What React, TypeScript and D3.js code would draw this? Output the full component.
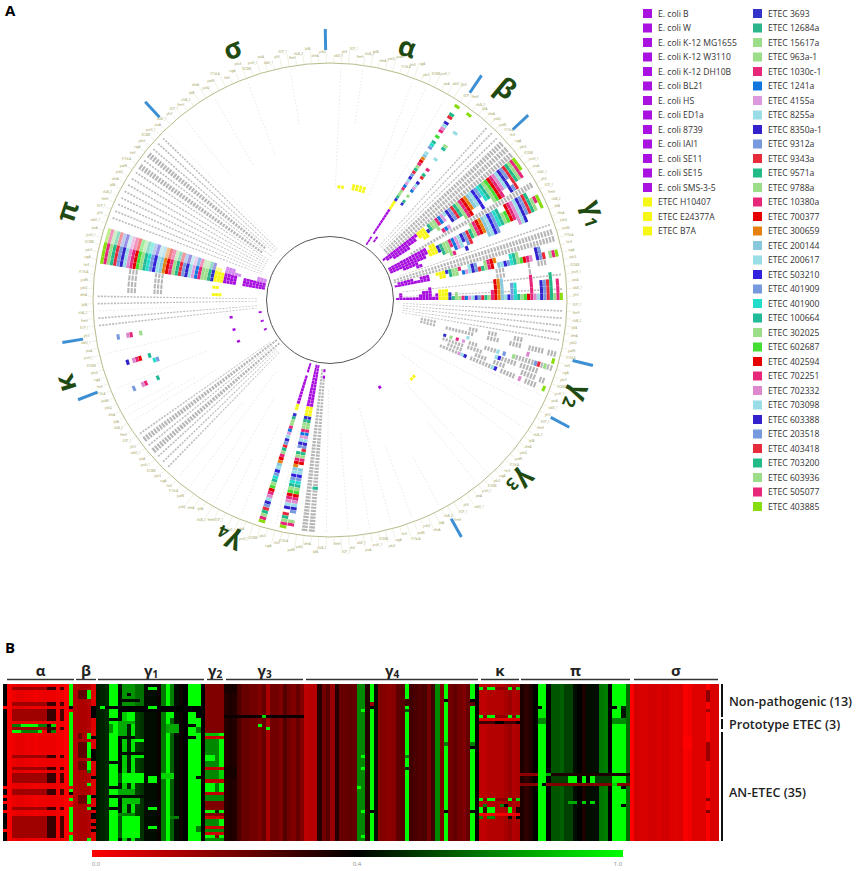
import { useEffect, useRef } from "react";
import * as d3 from "d3";

const width = 856;
const height = 871;

// ---------- legend / strains (one ring per strain) ----------
const nonPathogenic = ["E. coli B", "E. coli W", "E. coli K-12 MG1655", "E. coli K-12 W3110", "E. coli K-12 DH10B", "E. coli BL21", "E. coli HS", "E. coli ED1a", "E. coli 8739", "E. coli IAI1", "E. coli SE11", "E. coli SE15", "E. coli SMS-3-5"];
const prototypeEtec = ["ETEC H10407", "ETEC E24377A", "ETEC B7A"];
const anEtec = ["ETEC 3693", "ETEC 12684a", "ETEC 15617a", "ETEC 963a-1", "ETEC 1030c-1", "ETEC 1241a", "ETEC 4155a", "ETEC 8255a", "ETEC 8350a-1", "ETEC 9312a", "ETEC 9343a", "ETEC 9571a", "ETEC 9788a", "ETEC 10380a", "ETEC 700377", "ETEC 300659", "ETEC 200144", "ETEC 200617", "ETEC 503210", "ETEC 401909", "ETEC 401900", "ETEC 100664", "ETEC 302025", "ETEC 602687", "ETEC 402594", "ETEC 702251", "ETEC 702332", "ETEC 703098", "ETEC 603388", "ETEC 203518", "ETEC 403418", "ETEC 703200", "ETEC 603936", "ETEC 505077", "ETEC 403885"];
const anEtecColors = ["#3333cc", "#2bb58c", "#9bdd88", "#9bdd88", "#e6277a", "#1177dd", "#dd99dd", "#99dde6", "#3322cc", "#7799dd", "#e62b3a", "#22bb88", "#9bdd88", "#e6277a", "#e60000", "#e68011", "#88c8dd", "#99dde6", "#3322dd", "#7799dd", "#22ddcc", "#22bb99", "#9bdd88", "#44dd33", "#e60000", "#e6277a", "#dd88cc", "#99dde6", "#3322cc", "#7799dd", "#e62b3a", "#22bb88", "#9bdd88", "#e6277a", "#88dd11"];
const strains = [...nonPathogenic, ...prototypeEtec, ...anEtec];
const strainColors = [...nonPathogenic.map(() => "#a811e0"), ...prototypeEtec.map(() => "#f7f716"), ...anEtecColors];

// ---------- panel A: [gene slot, [[ringFrom, ringTo], ...]] ----------
const alphaCells: [number, number[][]][] = [
  [18, [[0, 2], [4, 12], [13, 15], [16, 33], [35, 37], [39, 39], [41, 44], [46, 47], [50, 50]]],
  [20, [[2, 3], [16, 17], [19, 19], [21, 24], [26, 27], [29, 29], [33, 33], [37, 38], [43, 43], [50, 50]]],
  [2, [[14, 14]]],
  [3, [[14, 14]]],
  [6, [[14, 15]]],
  [7, [[14, 15]]],
  [8, [[14, 15]]],
  [9, [[14, 15]]],
];
const gamma1Cells: [number, number[][]][] = [
  [29, [[0, 12], [13, 15], [17, 50]]],
  [30, [[1, 11], [13, 15], [16, 22], [24, 50]]],
  [31, [[3, 8], [14, 15], [19, 19], [24, 34], [36, 44], [46, 49]]],
  [32, [[20, 22], [28, 30], [34, 34], [38, 41], [44, 46]]],
  [34, [[0, 12], [14, 15], [28, 37], [40, 47]]],
  [35, [[0, 12], [13, 15], [16, 50]]],
  [36, [[0, 11], [13, 15], [16, 48], [50, 50]]],
  [37, [[4, 8], [17, 19], [21, 23], [25, 26], [32, 35], [42, 44]]],
  [38, [[8, 9], [19, 20], [24, 24]]],
  [42, [[1, 5], [8, 10], [13, 15], [16, 20], [23, 25], [28, 31], [36, 38], [44, 45]]],
  [43, [[0, 7], [8, 10], [14, 15], [17, 19], [21, 27], [28, 30], [32, 42], [44, 46], [48, 50]]],
];
const gamma2Cells: [number, number[][]][] = [
  [58, [[42, 42], [50, 50], [23, 23]]],
  [59, [[16, 16], [18, 18], [20, 20], [22, 22], [33, 33], [35, 35], [38, 38], [45, 46], [48, 48]]],
  [60, [[33, 34]]],
  [62, [[22, 24], [33, 34], [42, 42], [50, 50]]],
  [73, [[14, 14]]],
  [74, [[14, 14]]],
];
const kappaCells: [number, number[][]][] = [
  [144, [[1, 1], [10, 10], [38, 38], [41, 42], [45, 45]]],
  [140, [[1, 1], [10, 10], [37, 37], [40, 42], [44, 44]]],
  [139, [[35, 35], [36, 36]]],
  [136, [[1, 1], [10, 10], [37, 37], [41, 42], [45, 45]]],
];
const gamma4Cells: [number, number[][]][] = [
  [109, [[0, 2], [4, 12], [13, 14], [16, 50]]],
  [106, [[0, 8], [9, 12], [13, 15], [16, 25], [27, 44], [46, 50]]],
  [105, [[0, 12], [13, 15], [16, 30], [32, 45], [48, 49]]],
  [102, [[1, 1], [3, 3], [37, 37]]],
  [83, [[10, 10]]],
];
const piCells: [number, number[][]][] = [
  [155, [[0, 6], [9, 12], [13, 15], [16, 50]]],
  [156, [[0, 6], [9, 12], [13, 15], [16, 50]]],
  [157, [[0, 6], [9, 12], [13, 15], [16, 50]]],
];
const piFadedCells: [number, number[][]][] = [
  [158, [[0, 2], [8, 12], [14, 15], [16, 50]]],
  [159, [[0, 2], [10, 12], [16, 50]]],
];
const gamma1Stack = [1, 3, 1, 1, 1, 1, 1, 2, 3, 3, 4, 1, 2, 3, 3, 3, 2, 1, 2, 1, 1, 1, 1, 1, 1, 1, 1, 1, 1, 2, 4, 4, 4, 1, 1, 3, 3, 1, 1, 1, 1, 4, 1, 1, 3, 3, 3, 4, 1, 3, 1];

const grayThick: [number, number[][]][] = [
  [26, [[2, 50]]], [27, [[2, 50]]], [28, [[2, 50]]], [33, [[8, 50]]],
  [40, [[0, 50]]], [41, [[0, 50]]],
  [103, [[1, 50]]], [102, [[4, 36], [38, 50]]],
  [129, [[0, 50]]], [127, [[0, 50]]],
  [169, [[5, 50]]], [171, [[5, 50]]],
  [152, [[31, 33], [39, 41]]], [153, [[31, 33], [39, 41]]], [154, [[31, 33], [39, 41]]],
  [56, [[8, 12], [23, 25], [29, 31], [37, 39]]], [57, [[8, 12], [16, 24], [29, 32], [36, 39], [42, 46], [48, 50]]],
  [59, [[24, 26], [29, 32], [39, 44], [47, 47], [49, 50]]],
  [60, [[16, 22], [24, 28], [35, 39], [41, 46]]],
  [61, [[18, 22], [27, 30], [33, 36], [42, 46], [48, 49]]],
  [62, [[16, 21], [26, 32], [36, 40], [44, 47]]],
  [44, [[31, 33], [41, 41], [44, 46]]], [45, [[31, 33], [41, 41]]],
  [151, [[31, 33], [39, 41]]],
];
const grayThin = [23, 24, 25, 39, 46, 48, 51, 52, 53, 54, 55, 125, 124, 126, 128, 130, 146, 147, 149, 150, 161, 162, 163, 164, 165, 166, 167, 168, 170, 172, 173, 174];
const faintGenes = [1, 4, 11, 13, 16, 49, 63, 65, 68, 70, 76, 78, 84, 88, 91, 94, 97, 100, 107, 112, 114, 116, 118, 120, 122, 132, 133, 134, 137, 142, 148, 175, 178, 183, 188, 194];
const piYellow: [number, number[][]][] = [[151, [[13, 15]]], [153, [[14, 15]]]];

const sectorTicks = [-1, 34, 47, 104, 118, 151, 248.4, 261, 317];
const sectorNames: [string, string, number, number][] = [
  ["σ", "", 338.8, 268], ["α", "", 17, 263], ["β", "", 39.7, 274], ["γ", "1", 71.8, 278],
  ["γ", "2", 111.4, 266], ["γ", "3", 133.6, 265], ["γ", "4", 203, 261], ["κ", "", 252.5, 276], ["π", "", 288.6, 276],
];
// the gene names round the rim are too small to read in the picture; short stand-ins
const rimLabels = ["stbD_1", "yfcV", "ECP_1", "fimH", "cfaB_2", "lpfA", "sfmA", "ycbQ", "yadN", "f17d-A", "htrE", "csgA", "ydeS", "ECS88", "yraH_1", "pixA"];

// ---------- panel B: base value per gene column, patches [rowFrom, rowTo, colFrom, colTo, value] ----------
const denseRows = [1, 6, 8, 9, 10, 11, 14, 23, 27, 29, 30, 31, 34, 35, 40, 43, 44, 45, 46, 47, 48, 49];
const alphaCols = [0.4, 0.01, 0.03, 0.04, 0.04, 0.03, 0.03, 0.02, 0.03, 0.03, 0.03, 0.03, 0.02, 0.02, 0, 1];
const alphaPatches = [
  ...denseRows.flatMap((r) => [[r, r, 2, 9, 0.15], [r, r, 10, 11, 0.31], [r, r, 13, 13, 0.28]]),
  [7, 7, 0, 0, 0], [33, 33, 0, 0, 0], [36, 36, 0, 0, 0], [38, 38, 0, 0, 0], [41, 41, 0, 0, 0], [47, 47, 0, 0, 0],
  [13, 13, 2, 3, 0.7], [13, 13, 4, 7, 1], [13, 13, 8, 9, 0.7], [13, 13, 11, 11, 0.9], [13, 13, 10, 10, 0.38],
  [15, 15, 2, 3, 1], [15, 15, 4, 7, 0.7], [15, 15, 8, 8, 0.95], [15, 15, 10, 10, 0.35], [15, 15, 11, 11, 0.7],
  [7, 7, 15, 15, 0.4], [8, 8, 15, 15, 0.05], [33, 33, 15, 15, 0.05], [35, 35, 15, 15, 0.4], [36, 36, 15, 15, 0], [38, 38, 15, 15, 0], [39, 39, 15, 15, 0.05], [48, 48, 15, 15, 0],
];
const betaCols = [0.12, 0.13, 0.13, 0.12, 0.05];
const betaPatches = [
  [2, 4, 1, 2, 0.25], [2, 4, 3, 3, 1], [7, 10, 4, 4, 0.4], [16, 17, 3, 3, 1], [16, 17, 1, 1, 0.22], [19, 23, 3, 3, 1], [19, 23, 1, 2, 0.25],
  [25, 27, 3, 3, 1], [25, 27, 1, 2, 0.22], [28, 28, 3, 3, 0.7], [32, 32, 3, 3, 1], [36, 38, 3, 3, 1], [36, 38, 1, 2, 0.22], [40, 40, 3, 3, 1], [50, 50, 3, 3, 1],
  [17, 17, 4, 4, 0.4], [21, 24, 4, 4, 0.4], [30, 30, 4, 4, 0.4], [36, 36, 4, 4, 0.4], [40, 40, 4, 4, 0.4], [42, 43, 4, 4, 0.4], [45, 45, 4, 4, 0.4], [47, 47, 4, 4, 0.4],
];
const gamma1Cols = [0.46, 0.48, 0.5, 1, 1, 0.42, 0.88, 0.48, 0.95, 0.55, 0.52, 0.44, 0.42, 0.42, 0.38, 0.68, 1, 0.62, 0.42, 0.38, 0.4, 1, 1, 1, 0.4];
const gamma1Patches = [
  [0, 6, 6, 8, 0.75], [0, 6, 9, 10, 0.66], [1, 1, 12, 13, 1], [0, 6, 17, 17, 0.7], [3, 3, 7, 7, 0.4], [5, 5, 6, 9, 0.42],
  [7, 7, 2, 24, 0.4], [7, 7, 1, 1, 1], [7, 7, 12, 13, 1], [8, 8, 3, 24, 0.4], [8, 10, 3, 4, 1], [9, 11, 7, 8, 1], [9, 10, 16, 17, 1], [9, 10, 21, 22, 1], [9, 10, 23, 23, 0.4],
  [11, 11, 3, 4, 0.42], [12, 12, 5, 8, 0.8], [13, 15, 3, 3, 0.75], [13, 16, 5, 6, 0.8], [13, 15, 16, 18, 0.8], [14, 15, 23, 23, 0.7], [13, 13, 21, 22, 0.42],
  [17, 17, 6, 8, 0.42], [17, 17, 21, 22, 0.42], [18, 18, 9, 10, 1], [22, 22, 5, 10, 0.42], [23, 23, 9, 10, 0.95], [25, 25, 3, 4, 0.42],
  [29, 31, 6, 10, 1], [29, 31, 5, 5, 0.6], [30, 31, 12, 13, 1], [29, 30, 15, 17, 0.9], [30, 30, 23, 23, 0.42],
  [33, 33, 3, 5, 0.42], [34, 35, 5, 8, 0.8], [36, 36, 3, 10, 0.42], [37, 38, 6, 9, 0.85], [40, 40, 12, 13, 1], [40, 40, 3, 4, 0.42], [42, 42, 5, 8, 0.7],
  [43, 49, 6, 9, 1], [43, 49, 5, 5, 0.62], [46, 46, 12, 13, 1], [43, 43, 17, 18, 0.7], [46, 47, 23, 23, 0.7],
];
const gamma2Cols = [0.2, 0.2, 0.2, 0.2];
const gamma2Patches = [
  [16, 16, 0, 2, 0.85], [16, 16, 3, 3, 1], [17, 17, 0, 3, 0.08], [18, 26, 0, 2, 0.72], [18, 26, 3, 3, 1], [23, 24, 0, 1, 1], [27, 27, 0, 3, 0.1],
  [28, 30, 0, 2, 0.72], [28, 30, 3, 3, 0.9], [31, 31, 0, 3, 0.1], [32, 34, 0, 1, 1], [32, 34, 2, 2, 0.7], [32, 34, 3, 3, 1], [35, 35, 0, 3, 0.1],
  [36, 37, 0, 3, 0.72], [41, 41, 0, 1, 1], [41, 41, 2, 2, 0.5], [41, 41, 3, 3, 1], [43, 43, 0, 3, 0.08], [44, 45, 0, 2, 0.72], [44, 45, 3, 3, 1], [46, 46, 0, 3, 0.08],
  [47, 47, 0, 3, 0.72], [48, 48, 0, 3, 0.08], [49, 49, 0, 1, 1], [49, 49, 3, 3, 1], [50, 50, 0, 3, 0.72],
];
const gamma3Cols = [0.34, 0.36, 0.35, 0.28, 0.24, 0.24, 0.22, 0.22, 0.2, 0.24, 0.13, 0.22, 0.22, 0.2, 0.27, 0.22, 0.2, 0.24, 0.2];
const gamma3Patches = [
  [10, 10, 0, 18, 0.38], [10, 10, 9, 9, 0.9], [13, 13, 8, 8, 1], [14, 14, 10, 10, 1], [0, 2, 0, 2, 0.37], [27, 30, 0, 2, 0.37],
];
const gamma4Cols = [0.1, 0.11, 0.11, 0.34, 0.22, 0.26, 0.16, 0.34, 0.24, 0.24, 0.25, 0.24, 0.72, 0.72, 0.34, 1, 0.42, 0.2, 0.19, 0.18, 0.19, 0.25, 0.26, 1, 0.3, 0.28, 0.27, 0.28, 0.22, 0.3, 0.72, 0.2, 1, 0.22, 0.25, 0.22, 0.2, 0.24, 1, 0.4];
const gamma4Patches = [
  [5, 6, 23, 23, 0.3], [7, 7, 15, 15, 0.4], [5, 5, 32, 32, 0.4], [6, 6, 15, 15, 0.16], [5, 5, 38, 38, 0.4], [6, 6, 38, 38, 0.25],
  [8, 8, 13, 13, 1], [23, 23, 13, 13, 1], [27, 27, 13, 13, 1], [33, 33, 12, 12, 1], [41, 41, 13, 13, 1], [49, 49, 13, 13, 1],
  [23, 23, 23, 23, 0.7], [27, 27, 23, 23, 0.5], [41, 41, 15, 15, 0.4], [41, 41, 32, 32, 0.4], [41, 41, 38, 38, 0.4], [8, 8, 23, 23, 0.6], [19, 19, 32, 32, 0.7], [19, 19, 38, 38, 0.7], [20, 20, 38, 38, 0.4],
];
const kappaCols = [0.1, 0.1, 0.12, 0.12, 0.12, 0.12, 0.14, 0.16, 0.12, 0.13];
const kappaPatches = [
  [1, 1, 0, 9, 0.18], [1, 1, 0, 0, 1], [1, 1, 2, 3, 1], [1, 1, 7, 7, 1], [1, 1, 9, 9, 0.9],
  [10, 10, 0, 9, 0.18], [10, 10, 0, 0, 1], [10, 10, 2, 3, 1], [10, 10, 7, 7, 1], [10, 10, 9, 9, 0.9],
  [11, 11, 0, 9, 0.05], [12, 12, 0, 9, 0.3], [12, 12, 4, 5, 0.4], [12, 12, 9, 9, 0.4],
  [37, 37, 0, 9, 0.18], [37, 37, 0, 0, 1], [37, 37, 2, 3, 1], [37, 37, 7, 7, 1], [37, 37, 9, 9, 0.9],
  [39, 39, 1, 1, 0.7], [39, 39, 5, 5, 0.7], [39, 39, 6, 6, 0.4], [40, 41, 0, 0, 1], [40, 41, 2, 3, 1], [40, 41, 7, 7, 1], [40, 41, 1, 1, 0.3], [40, 41, 9, 9, 0.35],
  [42, 42, 0, 9, 0.02], [43, 43, 0, 0, 0.72], [43, 43, 2, 3, 0.72], [43, 43, 7, 7, 0.44], [43, 43, 9, 9, 0.4],
];
const piCols = [0.36, 0.33, 0.36, 0.4, 1, 1, 0.4, 0.6, 0.6, 0.62, 0.55, 0.55, 0.42, 0.4, 0.36, 0.42, 0.44, 0.42, 0.68, 0.7, 0.4, 1, 1, 1, 0.65];
const piPatches = [
  [7, 7, 4, 4, 0.4], [7, 7, 21, 21, 0.4], [7, 7, 23, 23, 0.5], [8, 10, 4, 5, 0.95], [8, 10, 23, 23, 0.45], [11, 12, 4, 5, 0.72], [11, 12, 21, 23, 0.72],
  [29, 29, 0, 3, 0.18], [29, 29, 6, 6, 0.8], [29, 29, 7, 24, 0.36], [30, 31, 7, 24, 0.55], [30, 31, 11, 12, 1], [30, 31, 14, 14, 1], [30, 31, 16, 16, 1], [30, 31, 21, 23, 1], [30, 31, 13, 13, 0.4], [30, 31, 15, 15, 0.4],
  [32, 32, 0, 3, 0.2], [32, 32, 5, 6, 0.4], [32, 32, 6, 24, 0.2], [32, 32, 21, 21, 0.9], [33, 33, 23, 23, 0.4],
  [38, 38, 11, 12, 0.8], [38, 38, 14, 14, 0.9], [38, 38, 16, 16, 0.9], [39, 39, 23, 23, 0.4],
];
const sigmaCols = [0, 0.07, 0.06, 0.06, 0.07, 0.07, 0.06, 0.07, 0.07, 0.05, 0.05, 0.06, 0.01, 0.02, 0.05, 0.05, 0.05, 0, 0.06, 0.06];
const sigmaPatches = [
  [2, 5, 17, 17, 0.18], [8, 8, 17, 17, 0.15], [19, 24, 17, 17, 0.16], [37, 37, 17, 17, 0.2], [41, 41, 17, 17, 0.2], [17, 20, 12, 13, 0.0],
];

const families: [string, string, number[], number[][]][] = [
  ["α", "", alphaCols, alphaPatches],
  ["β", "", betaCols, betaPatches],
  ["γ", "1", gamma1Cols, gamma1Patches],
  ["γ", "2", gamma2Cols, gamma2Patches],
  ["γ", "3", gamma3Cols, gamma3Patches],
  ["γ", "4", gamma4Cols, gamma4Patches],
  ["κ", "", kappaCols, kappaPatches],
  ["π", "", piCols, piPatches],
  ["σ", "", sigmaCols, sigmaPatches],
];
const groupLabels = ["Non-pathogenic (13)", "Prototype ETEC (3)", "AN-ETEC (35)"];

// layout
const center = { x: 330, y: 300 };
const innerR = 63.5;
const outerR = 237;
const familyEdges = [3, 73, 96, 205, 224, 304, 479, 520, 630, 719];
const bracketEdges = [[7, 74], [76, 96], [98, 204], [207, 223], [226, 303], [306, 478], [481, 519], [521, 630], [634, 718]];
const groupBars = [[684, 717], [719, 729], [732, 841]];
const groupBaselines = [705.5, 729, 796.5];

export default function App() {
  const svgRef = useRef<SVGSVGElement>(null);

  useEffect(() => {
    if (!svgRef.current) return;
    const svg = d3.select(svgRef.current);
    svg.selectAll("*").remove();
    const sans = "'Open Sans', sans-serif";

    // the source is a soft scan, so the marks get a slight blur
    const defs = svg.append("defs");
    defs.append("filter").attr("id", "soft-cells").append("feGaussianBlur").attr("stdDeviation", 0.35);
    defs.append("filter").attr("id", "soft-heat").attr("x", "-1%").attr("y", "-2%").attr("width", "102%").attr("height", "104%")
      .append("feGaussianBlur").attr("stdDeviation", 0.5);

    svg.append("text").attr("x", 5).attr("y", 16).attr("font-family", sans).attr("font-weight", 700).attr("font-size", 15).text("A");
    svg.append("text").attr("x", 5).attr("y", 653).attr("font-family", sans).attr("font-weight", 700).attr("font-size", 15).text("B");

    // ---- panel A
    const g = svg.append("g").attr("transform", `translate(${center.x},${center.y})`);
    const marks = g.append("g").attr("filter", "url(#soft-cells)");
    const ring = d3.scaleBand<number>().domain(d3.range(strains.length)).range([66, 233]);
    const gene = d3.scaleBand<number>().domain(d3.range(200)).range([0, Math.PI * 2]);
    const arc = d3.arc();
    const polar = (deg: number, r: number) => {
      const a = (deg * Math.PI) / 180;
      return [Math.sin(a) * r, -Math.cos(a) * r];
    };

    const cell = (slot: number, r: number, pad: number, gap: number, fill: string, opacity = 1) => {
      const a0 = gene(slot) as number;
      const bw = gene.bandwidth();
      marks.append("path")
        .attr("d", arc({
          innerRadius: (ring(r) as number) + gap,
          outerRadius: (ring(r) as number) + ring.bandwidth() - gap,
          startAngle: a0 + bw * pad,
          endAngle: a0 + bw * (1 - pad),
        }) as string)
        .attr("fill", fill)
        .attr("opacity", opacity);
    };

    // faint dotted radial lines
    faintGenes.forEach((s) => {
      const deg = (((gene(s) as number) + gene.bandwidth() / 2) * 180) / Math.PI;
      const [x0, y0] = polar(deg, 90 + (s % 5) * 22);
      const [x1, y1] = polar(deg, 232);
      marks.append("line").attr("x1", x0).attr("y1", y0).attr("x2", x1).attr("y2", y1)
        .attr("stroke", "#d8d8d8").attr("stroke-width", 0.6).attr("stroke-dasharray", "1.5,2");
    });
    grayThin.forEach((s) => {
      d3.range(2, 51).forEach((r) => cell(s, r, 0.38, 0.6, "#bdbdbd"));
    });
    grayThick.forEach(([s, spans]) => {
      spans.forEach(([a, b]) => d3.range(a, b + 1).forEach((r) => cell(s, r, 0.1, 0.6, "#b6b6b6")));
    });

    const drawSpans = (list: [number, number[][]][], pad: number, opacity = 1) => {
      list.forEach(([s, spans]) => {
        spans.forEach(([a, b]) => d3.range(a, b + 1).forEach((r) => cell(s, r, pad, 0.1, strainColors[r], opacity)));
      });
    };
    drawSpans(alphaCells, 0.12);
    drawSpans(gamma1Cells, 0);
    drawSpans(gamma2Cells, 0.12);
    drawSpans(kappaCells, 0.1);
    drawSpans(gamma4Cells, 0.04);
    drawSpans(piCells, 0);
    drawSpans(piFadedCells, 0, 0.5);
    drawSpans(piYellow, 0.1);
    gamma1Stack.forEach((n, r) => {
      d3.range(n).forEach((i) => cell(49 - i, r, 0, 0.1, strainColors[r]));
    });

    g.append("circle").attr("r", innerR).attr("fill", "none").attr("stroke", "#555").attr("stroke-width", 1);
    g.append("circle").attr("r", outerR).attr("fill", "none").attr("stroke", "#b9ba8c").attr("stroke-width", 1);

    // rim labels, staggered near the poles where they run side by side
    d3.range(200).forEach((s) => {
      const deg = (s + 0.5) * 1.8;
      const nearPole = Math.abs(Math.cos((deg * Math.PI) / 180)) > 0.8;
      const reach = outerR + 5 + (nearPole ? (s % 3) * 4 : 0);
      const [x0, y0] = polar(deg, outerR);
      const [x1, y1] = polar(deg, reach);
      const [tx, ty] = polar(deg, reach + 1);
      g.append("line").attr("x1", x0).attr("y1", y0).attr("x2", x1).attr("y2", y1).attr("stroke", "#d9d9b8").attr("stroke-width", 0.4);
      g.append("text").attr("x", tx).attr("y", ty + (deg > 90 && deg < 270 ? 2.5 : 0)).attr("text-anchor", deg < 180 ? "start" : "end")
        .attr("font-family", sans).attr("font-size", 3).attr("fill", "#99994d").text(rimLabels[s % rimLabels.length]);
    });

    sectorTicks.forEach((deg) => {
      const [x0, y0] = polar(deg, 250);
      const [x1, y1] = polar(deg, 271);
      g.append("line").attr("x1", x0).attr("y1", y0).attr("x2", x1).attr("y2", y1)
        .attr("stroke", "#3d8fd4").attr("stroke-width", 3);
    });
    sectorNames.forEach(([name, sub, deg, r]) => {
      const [x, y] = polar(deg, r);
      const t = g.append("text").attr("transform", `translate(${x},${y}) rotate(${deg})`)
        .attr("text-anchor", "middle").attr("dy", "0.3em").attr("font-family", sans).attr("font-weight", 700)
        .attr("font-size", 27).attr("fill", "#1f4a12").text(name);
      if (sub) t.append("tspan").attr("font-size", 17).attr("dy", 4).text(sub);
    });

    // legend
    const legend = svg.append("g").attr("font-family", sans).attr("font-size", 8.6).attr("fill", "#333");
    const legendY = d3.scaleLinear().domain([0, 34]).range([13.5, 506.5]);
    strains.forEach((name, i) => {
      const second = i >= 16;
      const row = second ? i - 16 : i;
      const y = legendY(row);
      legend.append("rect").attr("x", second ? 753 : 643).attr("y", y - 4.5).attr("width", 9).attr("height", 9)
        .attr("fill", strainColors[i]);
      legend.append("text").attr("x", second ? 768 : 658).attr("y", y + 3).text(name);
    });

    // ---- panel B
    const color = d3.scaleLinear<string>().domain([0, 0.4, 1]).range(["#ff0000", "#000000", "#00ff00"]);
    const rowY = d3.scaleBand<number>().domain(d3.range(strains.length)).range([684, 841]);
    const heat = svg.append("g").attr("filter", "url(#soft-heat)").attr("shape-rendering", "crispEdges");

    families.forEach(([name, sub, cols, patches], f) => {
      const colX = d3.scaleBand<number>().domain(d3.range(cols.length)).range([familyEdges[f], familyEdges[f + 1]]);
      const matrix = strains.map(() => [...cols]);
      patches.forEach(([r0, r1, c0, c1, v]) => {
        for (let r = r0; r <= r1; r++) for (let c = c0; c <= c1; c++) matrix[r][c] = v;
      });
      matrix.forEach((row, r) => {
        row.forEach((v, c) => {
          heat.append("rect").attr("x", colX(c) as number).attr("y", rowY(r) as number)
            .attr("width", colX.bandwidth() + 0.4).attr("height", rowY.bandwidth() + 0.4).attr("fill", color(v));
        });
      });
      const [bx0, bx1] = bracketEdges[f];
      svg.append("line").attr("x1", bx0).attr("x2", bx1).attr("y1", 679.5).attr("y2", 679.5).attr("stroke", "#333").attr("stroke-width", 1.4);
      const t = svg.append("text").attr("x", (bx0 + bx1) / 2).attr("y", 676).attr("text-anchor", "middle")
        .attr("font-family", sans).attr("font-weight", 700).attr("font-size", 15).attr("fill", "#222").text(name);
      if (sub) t.append("tspan").attr("font-size", 10).attr("dy", 2).text(sub);
    });

    groupLabels.forEach((label, i) => {
      svg.append("line").attr("x1", 722).attr("x2", 722).attr("y1", groupBars[i][0]).attr("y2", groupBars[i][1]).attr("stroke", "#111").attr("stroke-width", 2);
      svg.append("text").attr("x", 729).attr("y", groupBaselines[i])
        .attr("font-family", sans).attr("font-weight", 600).attr("font-size", 12.6).attr("fill", "#222").text(label);
    });

    // colour bar
    const grad = defs.append("linearGradient").attr("id", "heat-scale");
    grad.append("stop").attr("offset", "0%").attr("stop-color", color(0));
    grad.append("stop").attr("offset", "50%").attr("stop-color", color(0.4));
    grad.append("stop").attr("offset", "100%").attr("stop-color", color(1));
    svg.append("rect").attr("x", 92).attr("y", 850).attr("width", 531).attr("height", 7).attr("fill", "url(#heat-scale)");
    const barX = d3.scaleLinear().domain([0, 0.4, 1]).range([96, 357, 618]);
    [0, 0.4, 1].forEach((v) => {
      svg.append("text").attr("x", barX(v)).attr("y", 866).attr("text-anchor", "middle")
        .attr("font-family", sans).attr("font-size", 6).attr("fill", "#888").text(v.toFixed(1));
    });
  }, []);

  return (
    <svg
      ref={svgRef}
      width={width}
      height={height}
      viewBox={`0 0 ${width} ${height}`}
      style={{ position: "absolute", left: 0, top: 0, background: "#fff" }}
    />
  );
}
